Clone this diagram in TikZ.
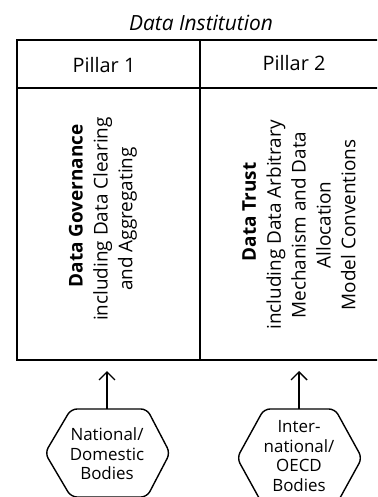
\documentclass[tikz,border=0pt]{standalone}
\usepackage{fontspec}
\setmainfont{Open Sans}
\usetikzlibrary{arrows.meta}
\tikzset{
  frame/.style={draw=black, line width=2bp},
  head/.style={font=\fontsize{20}{22}\selectfont, anchor=center},
  body/.style={font=\fontsize{19}{25}\selectfont, align=center, rotate=90, anchor=center},
  hextext/.style={font=\fontsize{17}{19.5}\selectfont, align=center, anchor=center, inner sep=0pt},
  hexline/.style={draw=black, line width=1.4bp, rounded corners=6bp},
  up/.style={draw=black, line width=1.4bp, -{Straight Barb[length=8bp,width=16bp,line width=1.4bp]}}
}
\begin{document}
\begin{tikzpicture}[x=1bp,y=-1bp]
\path[use as bounding box, clip] (0,0) rectangle (377,497);
% title
\node[font=\fontsize{21}{22}\selectfont\itshape] (title) at (201,23) {Data Institution};
% table
\coordinate (tl) at (17,40);
\coordinate (br) at (388,360);
\draw[frame] (tl) rectangle (br);
\coordinate (hl) at (17,88);
\coordinate (hr) at (388,88);
\draw[frame] (hl) -- (hr);
\coordinate (vt) at (200,40);
\coordinate (vb) at (200,360);
\draw[frame] (vt) -- (vb);
\node[head] (p1) at (104,65) {Pillar 1};
\node[head] (p2) at (294,63) {Pillar 2};
\node[body] (b1) at (103,219) {\hspace*{26bp}\textbf{Data Governance}\\including Data Clearing\\and Aggregating};
\node[body] (b2) at (299,225) {\hspace*{26bp}\textbf{Data Trust}\\including Data Arbitrary\\Mechanism and Data\\Allocation\\Model Conventions};
% hexagons
\draw[hexline] (45,453) -- (71,409) -- (147,409) -- (170,453) -- (147,497) -- (71,497) -- cycle;
\coordinate (h1top) at (107,409);
\node[hextext] (h1) at (107,454) {National/\\Domestic\\Bodies};
\draw[hexline] (237,458) -- (264,409) -- (335,409) -- (362,458) -- (335,507) -- (264,507) -- cycle;
\coordinate (h2top) at (299,409);
\node[hextext] (h2) at (299,456) {Inter-\\national/\\OECD\\Bodies};
% arrows
\coordinate (a1) at (107,371);
\coordinate (a2) at (299,371);
\draw[up] (h1top) -- (a1);
\draw[up] (h2top) -- (a2);
\end{tikzpicture}
\end{document}
